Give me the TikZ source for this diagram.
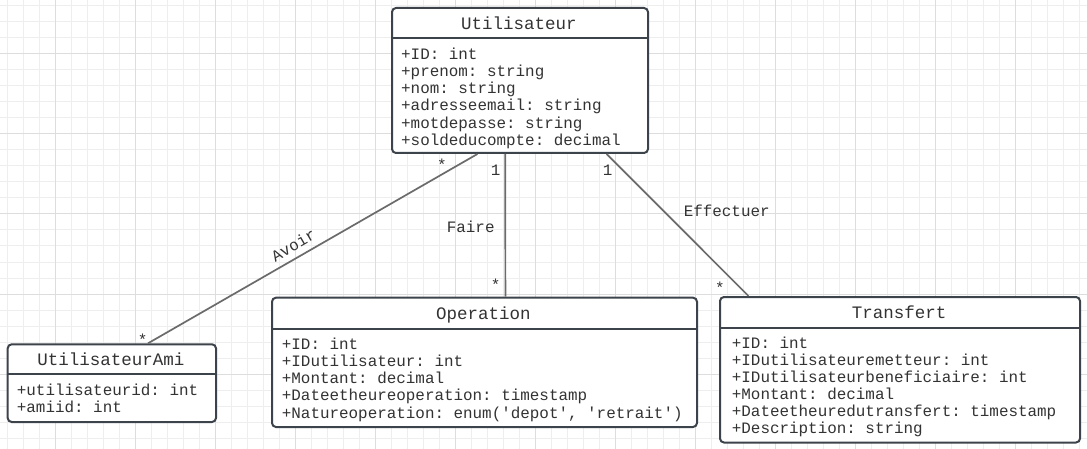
\documentclass[tikz,border=0pt]{standalone}
\usepackage{fontspec}
\newfontfamily\umlmono{Liberation Mono}
\usetikzlibrary{calc}
\frenchspacing
\definecolor{gridminor}{HTML}{EEEEEE}
\definecolor{gridmajor}{HTML}{DDDDDD}
\definecolor{boxline}{HTML}{3D434B}
\definecolor{txt}{HTML}{333333}
\definecolor{conn}{HTML}{6B6B6B}
\tikzset{
  umlbox/.style={draw=boxline, line width=2pt, fill=white, rounded corners=4pt, anchor=north west, inner sep=0pt},
  sepline/.style={draw=boxline, line width=2pt},
  umltitle/.style={font=\umlmono\frenchspacing\fontsize{17.5}{20}\selectfont, text=txt, inner sep=0pt, anchor=base},
  attr/.style={font=\umlmono\frenchspacing\fontsize{15.9}{17}\selectfont, text=txt, inner sep=0pt, anchor=base west},
  lbl/.style={font=\umlmono\frenchspacing\fontsize{15.9}{17}\selectfont, text=txt, inner sep=0pt, anchor=base},
  assoc/.style={draw=conn, line width=1.7pt},
  gmin/.style={draw=gridminor, line width=1pt},
  gmaj/.style={draw=gridmajor, line width=1pt},
}
\begin{document}
\begin{tikzpicture}[x=1pt,y=-1pt]
\useasboundingbox (0,0) rectangle (1087,449);
\fill[white] (0,0) rectangle (1087,449);
% grid
\foreach \x in {7.3,23.3,...,1087} \draw[gmin] (\x,0) -- (\x,449);
\foreach \y in {6,22,...,449} \draw[gmin] (0,\y) -- (1087,\y);
\foreach \x in {55.3,135.3,...,1087} \draw[gmaj] (\x,0) -- (\x,449);
\foreach \y in {54,134,...,449} \draw[gmaj] (0,\y) -- (1087,\y);

% Utilisateur
\node[umlbox, minimum width=256pt, minimum height=145pt] (U) at (391,7) {};
\draw[sepline] (U.west |- 0,38.3) -- (U.east |- 0,38.3);
\node[umltitle] (Ut) at (519,29.3) {Utilisateur};
\foreach \t [count=\i from 0] in {+ID: int,+prenom: string,+nom: string,+adresseemail: string,+motdepasse: string,+soldeducompte: decimal}
  \node[attr] (U-a\i) at (401,59.3+17.2*\i) {\t};

% UtilisateurAmi
\node[umlbox, minimum width=208.3pt, minimum height=77.7pt] (UA) at (6.7,343.3) {};
\draw[sepline] (UA.west |- 0,374.3) -- (UA.east |- 0,374.3);
\node[umltitle] (UAt) at (110.8,365) {UtilisateurAmi};
\foreach \t [count=\i from 0] in {+utilisateurid: int,+amiid: int}
  \node[attr] (UA-a\i) at (16.7,395.3+16.8*\i) {\t};

% Operation
\node[umlbox, minimum width=425pt, minimum height=129.3pt] (Op) at (271,296.7) {};
\draw[sepline] (Op.west |- 0,329.3) -- (Op.east |- 0,329.3);
\node[umltitle] (Opt) at (483.5,319) {Operation};
\foreach \t [count=\i from 0] in {+ID: int,+IDutilisateur: int,+Montant: decimal,+Dateetheureoperation: timestamp,{+Natureoperation: enum(\textquotesingle depot\textquotesingle, \textquotesingle retrait\textquotesingle)}}
  \node[attr] (Op-a\i) at (281.7,349.3+17.2*\i) {\t};

% Transfert
\node[umlbox, minimum width=360pt, minimum height=145.5pt] (T) at (719,296) {};
\draw[sepline] (T.west |- 0,327.7) -- (T.east |- 0,327.7);
\node[umltitle] (Tt) at (899,318.5) {Transfert};
\foreach \t [count=\i from 0] in {+ID: int,+IDutilisateuremetteur: int,+IDutilisateurbeneficiaire: int,+Montant: decimal,+Dateetheuredutransfert: timestamp,+Description: string}
  \node[attr] (T-a\i) at (731.7,348.8+17*\i) {\t};

% associations
\draw[assoc] ($(U.south west)!0.335!(U.south east)$) -- ($(UA.north west)!0.672!(UA.north east)$);
\draw[assoc] ($(U.south west)!0.4426!(U.south east)$) -- ($(Op.north west)!0.549!(Op.north east)$);
\draw[assoc] ($(U.south west)!0.836!(U.south east)$) -- ($(T.north west)!0.0814!(T.north east)$);

% labels
\node[lbl, anchor=center, rotate=30] (avoir) at (293.3,245.2) {Avoir};
\node[lbl] (m1) at (442,170.7) {*};
\node[lbl] (m2) at (142.7,345) {*};
\node[lbl] (faire) at (470.7,233) {Faire};
\node[lbl] (m3) at (495.7,175.3) {1};
\node[lbl] (m4) at (495.7,290.7) {*};
\node[lbl] (eff) at (726.7,217) {Effectuer};
\node[lbl] (m5) at (607.7,175.3) {1};
\node[lbl] (m6) at (720,293) {*};
\end{tikzpicture}
\end{document}
